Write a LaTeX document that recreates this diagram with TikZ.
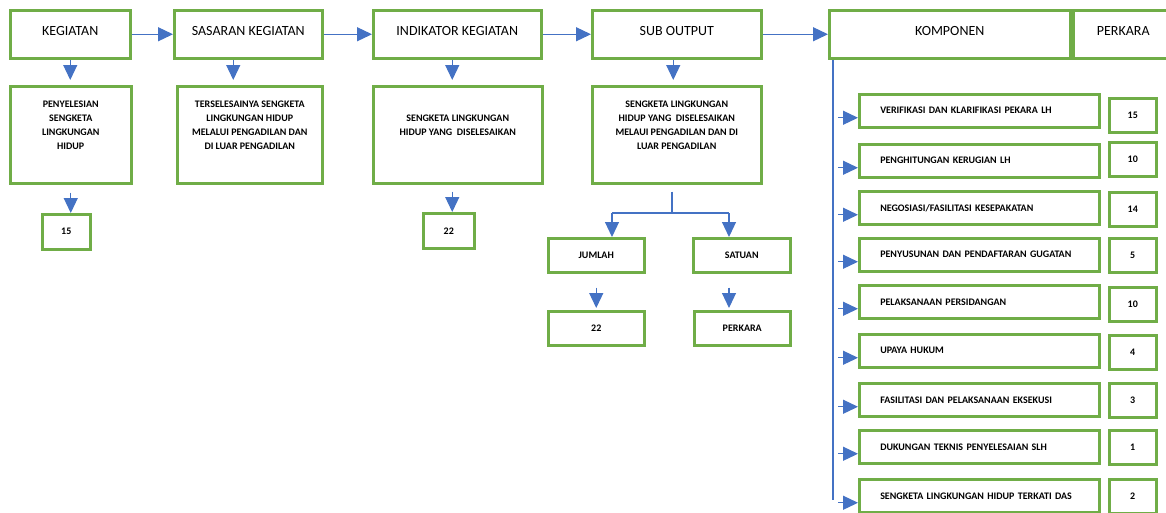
\documentclass[tikz,border=0pt]{standalone}
\usepackage{fontspec}
\setmainfont{Carlito}
\usetikzlibrary{arrows.meta}
\definecolor{boxgreen}{HTML}{70AD47}
\definecolor{arrowblue}{HTML}{4472C4}
\newcommand{\desctext}[2]{\parbox[c][97pt][c]{#1}{\centering #2\par\vspace{18pt}}} % #1 Width, #2 Lines

\begin{document}
\begin{tikzpicture}[x=1pt, y=-1pt,
    box/.style={draw=boxgreen, line width=2.5pt, anchor=north west, inner sep=0pt, align=center},
    titlebox/.style={box, minimum height=48pt, font=\fontsize{14}{16}\selectfont, text height=9pt, text depth=6pt},
    smallbox/.style={box, font=\fontsize{10}{14}\selectfont\bfseries},
    itembox/.style={smallbox, minimum width=240pt, minimum height=33pt, text width=198pt, align=left, inner xsep=21pt},
    conn/.style={draw=arrowblue, line width=1.2pt},
    arr/.style={conn, -{Triangle[length=15pt, width=14pt]}}]
        \useasboundingbox (0,0) rectangle (1166,512);

        % kopfzeile
        \node[titlebox, minimum width=120pt] (keg) at (9,9) {KEGIATAN};
        \node[titlebox, minimum width=148pt] (sas) at (173,9) {SASARAN KEGIATAN};
        \node[titlebox, minimum width=168pt] (ind) at (372,9) {INDIKATOR KEGIATAN};
        \node[titlebox, minimum width=169pt] (sub) at (591,9) {SUB OUTPUT};
        \node[titlebox, minimum width=241pt] (komp) at (828,9) {KOMPONEN};
        \node[titlebox, minimum width=100pt] (perk) at (1072,9) {PERKARA};

        \draw[arr] (keg) -- (sas);
        \draw[arr] (sas) -- (ind);
        \draw[arr] (ind) -- (sub);
        \draw[arr] (sub) -- (komp);

        % beschreibung
        \node[smallbox] (pen) at (9,85) {\desctext{121pt}{PENYELESIAN\\SENGKETA\\LINGKUNGAN\\HIDUP}};
        \node[smallbox] (ters) at (176,85) {\desctext{145pt}{TERSELESAINYA SENGKETA\\LINGKUNGAN HIDUP\\MELALUI PENGADILAN DAN\\DI LUAR PENGADILAN}};
        \node[smallbox] (seng) at (372,85) {\desctext{169pt}{SENGKETA LINGKUNGAN\\HIDUP YANG ~DISELESAIKAN}};
        \node[smallbox] (subd) at (591,85) {\desctext{169pt}{SENGKETA LINGKUNGAN\\HIDUP YANG ~DISELESAIKAN\\MELAUI PENGADILAN DAN DI\\LUAR PENGADILAN}};

        \coordinate (sasdown) at ([xshift=-15pt]sas.south);
        \coordinate (inddown) at ([xshift=-5pt]ind.south);
        \coordinate (subdown) at ([xshift=-3.5pt]sub.south);
        \draw[arr, shorten >=5pt] (keg.south) -- (keg.south |- pen.north);
        \draw[arr, shorten >=5pt] (sasdown) -- (sasdown |- ters.north);
        \draw[arr, shorten >=5pt] (inddown) -- (inddown |- seng.north);
        \draw[arr, shorten >=5pt] (subdown) -- (subdown |- subd.north);

        % zahlen
        \node[smallbox, minimum width=48pt, minimum height=35pt] (n15) at (41,213) {15};
        \node[smallbox, minimum width=51pt, minimum height=35pt] (n22) at (422,212) {22};
        \draw[arr, shorten <=8pt] (pen.south) -- (pen.south |- n15.north);
        \draw[arr, shorten <=7pt] (inddown |- seng.south) -- (inddown |- n22.north);

        % jumlah / satuan
        \node[smallbox, minimum width=96pt, minimum height=34pt] (jum) at (547,237) {JUMLAH};
        \node[smallbox, minimum width=97pt, minimum height=34pt] (sat) at (692,237) {SATUAN};
        \node[smallbox, minimum width=96pt, minimum height=34pt] (jv) at (547,310) {22};
        \node[smallbox, minimum width=96pt, minimum height=34pt] (sv) at (693,310) {PERKARA};

        \coordinate (split) at (672,213);
        \coordinate (splitL) at (612,213);
        \coordinate (splitR) at (729,213);
        \draw[conn, shorten <=7pt] (split |- subd.south) -- (split);
        \draw[conn] (splitL) -- (splitR);
        \draw[arr] (splitL) -- (splitL |- jum.north);
        \draw[arr] (splitR) -- (splitR |- sat.north);
        \draw[arr, shorten <=14pt, shorten >=2pt] (jum.south) -- (jum.south |- jv.north);
        \draw[arr, shorten <=14pt, shorten >=2pt] (splitR |- sat.south) -- (splitR |- sv.north);

        % komponen
        \coordinate (trunk) at (833,57);
        \coordinate (trunkend) at (833,500);
        \draw[conn] (komp.south -| trunk) -- (trunkend);

        \foreach \i/\yi/\yv/\txt/\val in {
            1/93/97/{VERIFIKASI DAN KLARIFIKASI PEKARA LH}/15,
            2/143/141/{PENGHITUNGAN KERUGIAN LH}/10,
            3/190/191/{NEGOSIASI/FASILITASI KESEPAKATAN}/14,
            4/237/237/{PENYUSUNAN DAN PENDAFTARAN GUGATAN}/5,
            5/284/286/{PELAKSANAAN PERSIDANGAN}/10,
            6/333/334/{UPAYA HUKUM}/4,
            7/382/382/{FASILITASI DAN PELAKSANAAN EKSEKUSI}/3,
            8/429/429/{DUKUNGAN TEKNIS PENYELESAIAN SLH}/1,
            9/478/478/{SENGKETA LINGKUNGAN HIDUP TERKATI DAS}/2}{
            \node[itembox] (it\i) at (858,\yi) {\mbox{\txt}};
            \node[smallbox, minimum width=47pt, minimum height=34pt] (val\i) at (1108,\yv) {\val};
            \coordinate (in\i) at ([yshift=-7pt]it\i.west);
            \draw[arr, shorten <=5pt] (trunk |- in\i) -- (in\i);
        }
\end{tikzpicture}
\end{document}
